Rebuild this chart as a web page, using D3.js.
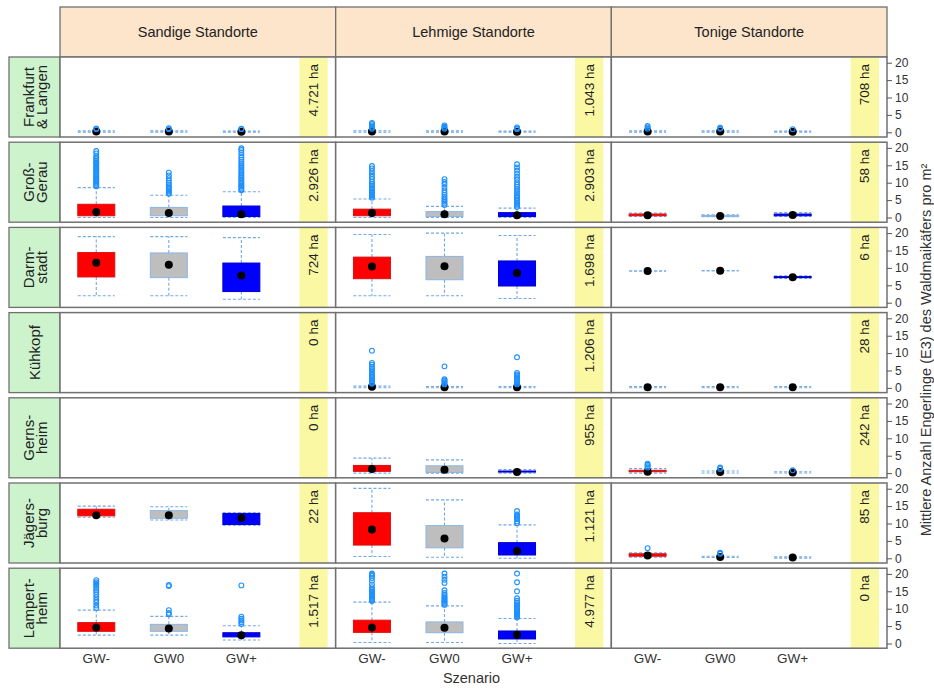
<!DOCTYPE html>
<html><head><meta charset="utf-8">
<script src="https://cdn.jsdelivr.net/npm/d3@7"></script>
<style>body{margin:0;background:#fff}svg{display:block;font-family:"Liberation Sans",Arial,Helvetica,sans-serif}</style>
</head><body><svg id="chart" width="934" height="688"></svg>
<script>
const columns = ["Sandige Standorte", "Lehmige Standorte", "Tonige Standorte"];
const regions = [["Frankfurt","& Langen"],["Groß-","Gerau"],["Darm-","stadt"],["Kühkopf"],["Gerns-","heim"],["Jägers-","burg"],["Lampert-","heim"]];
const scenarios = ["GW-","GW0","GW+"];
const areas = [["4.721 ha","1.043 ha","708 ha"],["2.926 ha","2.903 ha","58 ha"],["724 ha","1.698 ha","6 ha"],["0 ha","1.206 ha","28 ha"],["0 ha","955 ha","242 ha"],["22 ha","1.121 ha","85 ha"],["1.517 ha","4.977 ha","0 ha"]];
const yTicks = [0,5,10,15,20];
const xTitle = "Szenario";
const yTitle = "Mittlere Anzahl Engerlinge (E3) des Waldmaikäfers pro m²";

// [region][soil column][scenario]
const lowWhisker = [
 [[0.05,0.05,0.05],[0.05,0.05,0.05],[0.05,0.05,0.05]],
 [[0,0,0],[0,0,0],[0.3,0.2,0.3]],
 [[2.0,2.0,1.0],[2.0,2.0,1.2],[9.1,9.2,7.0]],
 [null,[0.05,0.05,0.05],[0.05,0.05,0.05]],
 [null,[0,0,0],[0,0.05,0.05]],
 [[11.8,11.0,9.5],[0.5,0.3,0],[0.3,0.25,0.05]],
 [[2.4,2.4,1.0],[0.3,0.3,0],null]
];
const q1 = [
 [[0.2,0.2,0.15],[0.2,0.2,0.15],[0.2,0.2,0.15]],
 [[0.5,0.5,0.3],[0.5,0.3,0.3],[0.5,0.3,0.5]],
 [[7.4,7.2,3.2],[6.9,6.6,4.8],[9.1,9.2,7.2]],
 [null,[0.3,0.2,0.2],[0.2,0.2,0.2]],
 [null,[0.5,0.2,0.3],[0.4,0.3,0.2]],
 [[12.2,11.5,9.7],[3.8,3.0,0.95],[0.6,0.4,0.2]],
 [[3.5,3.5,1.9],[3.2,3.1,1.3],null]
];
const medians = [
 [[0.2,0.2,0.15],[0.2,0.2,0.15],[0.2,0.2,0.15]],
 [[1.6,1.3,0.95],[1.3,0.9,0.66],[0.65,0.45,0.7]],
 [[11.5,10.9,7.8],[10.4,10.5,8.5],[9.1,9.2,7.3]],
 [null,[0.3,0.2,0.2],[0.2,0.2,0.2]],
 [null,[1.2,0.95,0.35],[0.4,0.3,0.2]],
 [[12.4,12.4,11.6],[8.3,5.7,2.1],[0.8,0.4,0.2]],
 [[4.6,4.3,2.4],[4.6,4.5,2.5],null]
];
const q3 = [
 [[0.2,0.2,0.15],[0.2,0.2,0.15],[0.2,0.2,0.15]],
 [[3.8,2.9,3.3],[2.4,1.7,1.4],[1.0,0.6,1.0]],
 [[14.4,14.3,11.4],[13.1,13.3,12.0],[9.1,9.2,7.5]],
 [null,[0.3,0.2,0.2],[0.2,0.2,0.2]],
 [null,[2.2,2.1,0.6],[0.8,0.3,0.2]],
 [[14.1,13.7,12.9],[13.1,9.4,4.5],[1.3,0.4,0.2]],
 [[6.0,5.5,3.1],[6.7,6.2,3.6],null]
];
const highWhisker = [
 [[0.4,0.4,0.35],[0.45,0.4,0.35],[0.4,0.4,0.35]],
 [[8.6,6.4,7.4],[5.3,3.2,2.7],[1.3,0.8,1.4]],
 [[19.0,19.0,18.7],[19.6,20.0,19.3],[9.1,9.2,7.7]],
 [null,[0.5,0.4,0.4],[0.4,0.4,0.4]],
 [null,[4.3,3.8,1.0],[1.3,0.6,0.4]],
 [[15.0,14.8,13.1],[20.1,16.8,9.6],[1.6,0.6,0.4]],
 [[9.6,7.8,5.1],[11.9,10.8,7.2],null]
];
const outliers = [
 [[[0.9,1.1],[0.9,1.2],[0.9,1.0]],
  [[1.0,1.3,1.6,2.0,2.4,2.7],[1.0,1.3,1.6,2.0],[0.9,1.1,1.4]],
  [[1.0,1.4,1.8],[1.0,1.3],[0.9]]],
 [[[9.0,9.3,9.7,10.0,10.4,10.7,11.1,11.4,11.8,12.1,12.5,12.9,13.2,13.6,14.0,14.3,14.7,15.1,15.5,15.8,16.2,16.7,17.1,17.6,18.4,19.1],
   [6.8,7.1,7.5,7.8,8.2,8.6,9.0,9.5,10.0,10.6,11.3,12.1,12.9],
   [7.8,8.1,8.5,8.9,9.2,9.6,10.0,10.4,10.9,11.3,11.8,12.2,12.7,13.2,13.7,14.3,14.8,15.4,16.0,16.6,17.2,17.9,18.7,19.4,19.9]],
  [[5.7,6.0,6.4,6.7,7.1,7.5,7.9,8.3,8.7,9.2,9.7,10.3,11.0,11.7,12.5,13.3,14.1,14.8],
   [3.6,4.0,4.5,4.9,5.4,5.9,6.5,7.1,7.8,8.6,9.5,10.2,11.0],
   [3.0,3.4,3.8,4.2,4.7,5.1,5.6,6.0,6.5,7.0,7.6,8.2,8.8,9.4,10.1,10.9,11.7,12.6,13.5,14.4,15.3]],
  [[],[],[]]],
 [[[],[],[]],[[],[],[]],[[],[],[]]],
 [null,
  [[1.2,1.5,1.8,2.1,2.5,2.8,3.2,3.6,4.1,4.6,5.1,5.6,6.1,6.7,7.2,10.7],[1.0,1.3,1.6,1.9,2.2,2.5,6.2],[1.0,1.3,1.6,2.0,2.3,2.7,3.1,3.5,3.9,4.3,8.8]],
  [[],[],[]]],
 [null,[[],[],[]],[[1.6,2.0,2.4,2.7],[1.2,1.6],[0.8]]],
 [[[],[],[]],[[],[],[10.1,10.6,11.2,11.6,12.0,12.3,12.6,13.6]],[[2.9],[1.3,1.6],[]]],
 [[[10.2,10.9,11.8,12.5,13.3,14.1,14.8,15.4,16.0,16.6,17.1,17.6,18.2],[8.4,8.8,9.6,16.5,16.8],[5.6,6.1,6.6,7.1,7.7,16.7]],
  [[12.2,12.5,12.8,13.1,13.4,13.7,14.0,14.3,14.6,15.0,15.5,16.2,17.0,18.0,18.8,19.4,19.8,20.1],
   [11.1,11.4,11.7,12.0,12.3,12.6,12.9,13.2,13.6,14.0,14.5,15.3,17.4,18.3,19.2,20.1],
   [7.5,7.8,8.1,8.4,8.7,9.0,9.3,9.6,9.9,10.2,10.5,10.9,11.3,11.8,12.3,13.0,15.0,17.6,20.1]],
  null]
];

const boxFill = ["#ff0000","#bebebe","#0000ff"];
const boxStroke = ["#d81010","#8ab6e6","#0000cc"];

// ---- layout ----
const svg = d3.select("#chart");
const L = 60, R = 887, headTop = 7, headBot = 57;
const colW = (R - L) / 3;
const rowStep = 85.2, panelH = 80;
const stripL = 9;
const borderCol = "#707070";
const whiskCol = "#72a8e6";
const outCol = "#1e90ff";

const x = d3.scaleLinear().domain([0.5, 4.3]).range([0, colW]);
const y = d3.scaleLinear().domain([-1.35, 21.64]).range([panelH, 0]);
const halfW = x(1.255) - x(1);

// header strips
columns.forEach((c, ci) => {
  const g = svg.append("g").attr("transform", `translate(${L + ci*colW},${headTop})`);
  g.append("rect").attr("width", colW).attr("height", headBot - headTop)
    .attr("fill", "#fce5cb").attr("stroke", borderCol).attr("stroke-width", 1.3);
  g.append("text").attr("x", colW/2).attr("y", (headBot - headTop)/2 + 5)
    .attr("text-anchor", "middle").attr("font-size", 14.5).attr("fill", "#222").text(c);
});

regions.forEach((reg, ri) => {
  const top = headBot + ri * rowStep;
  // left strip
  const sg = svg.append("g").attr("transform", `translate(${stripL},${top})`);
  sg.append("rect").attr("width", L - stripL).attr("height", panelH)
    .attr("fill", "#cdf3cd").attr("stroke", borderCol).attr("stroke-width", 1.3);
  const cx = (L - stripL) / 2;
  const n = reg.length;
  reg.forEach((line, li) => {
    const off = (li - (n - 1) / 2) * 13;
    sg.append("text")
      .attr("transform", `translate(${cx + off},${panelH/2}) rotate(-90)`)
      .attr("text-anchor", "middle").attr("dominant-baseline", "central")
      .attr("font-size", 15).attr("fill", "#222").text(line);
  });

  columns.forEach((c, ci) => {
    const g = svg.append("g").attr("transform", `translate(${L + ci*colW},${top})`);
    g.append("rect").attr("width", colW).attr("height", panelH).attr("fill", "#fff");
    // yellow area strip
    g.append("rect").attr("x", x(3.8)).attr("width", x(4.19) - x(3.8))
      .attr("height", panelH).attr("fill", "#faf8a2");
    g.append("text")
      .attr("transform", `translate(${(x(3.8)+x(4.19))/2},${7}) rotate(-90)`)
      .attr("text-anchor", "end").attr("dominant-baseline", "central")
      .attr("font-size", 13.5).attr("fill", "#222").text(areas[ri][ci]);

    const med = medians[ri][ci];
    if (med) {
      scenarios.forEach((s, si) => {
        const xc = x(si + 1);
        const lo = lowWhisker[ri][ci][si], a = q1[ri][ci][si], m = med[si],
              b = q3[ri][ci][si], hi = highWhisker[ri][ci][si];
        const wg = g.append("g").attr("stroke", whiskCol).attr("stroke-width", 1.1)
          .attr("stroke-dasharray", "3,2").attr("fill", "none");
        wg.append("line").attr("x1", xc).attr("x2", xc).attr("y1", y(b)).attr("y2", y(hi));
        wg.append("line").attr("x1", xc).attr("x2", xc).attr("y1", y(a)).attr("y2", y(lo));
        wg.append("line").attr("x1", xc - halfW).attr("x2", xc + halfW).attr("y1", y(hi)).attr("y2", y(hi));
        wg.append("line").attr("x1", xc - halfW).attr("x2", xc + halfW).attr("y1", y(lo)).attr("y2", y(lo));
        if (b - a > 0.01) {
          g.append("rect").attr("x", xc - halfW).attr("width", 2*halfW)
            .attr("y", y(b)).attr("height", Math.max(1, y(a) - y(b)))
            .attr("fill", boxFill[si]).attr("stroke", boxStroke[si]).attr("stroke-width", 1);
        }
        g.append("circle").attr("cx", xc).attr("cy", y(m)).attr("r", 4).attr("fill", "#000");
        const outs = outliers[ri] && outliers[ri][ci] ? outliers[ri][ci][si] : [];
        g.selectAll(null).data(outs).enter().append("circle")
          .attr("cx", xc).attr("cy", d => y(d)).attr("r", 2.4)
          .attr("fill", "none").attr("stroke", outCol).attr("stroke-width", 1.1);
      });
    }
    g.append("rect").attr("width", colW).attr("height", panelH)
      .attr("fill", "none").attr("stroke", borderCol).attr("stroke-width", 1.5);
  });

  // right axis
  const ag = svg.append("g").attr("transform", `translate(${R},${top})`);
  const axis = d3.axisRight(y).tickValues(yTicks).tickSize(5).tickPadding(3);
  ag.call(axis);
  ag.select(".domain").remove();
  ag.selectAll(".tick line").attr("stroke", "#555");
  ag.selectAll(".tick text").attr("font-size", 12).attr("fill", "#333")
    .attr("font-family", "Liberation Sans, Arial, sans-serif");
});

// x labels
const lastBottom = headBot + (regions.length - 1) * rowStep + panelH;
columns.forEach((c, ci) => {
  scenarios.forEach((s, si) => {
    svg.append("text").attr("x", L + ci*colW + x(si + 1)).attr("y", lastBottom + 15)
      .attr("text-anchor", "middle").attr("font-size", 13.5).attr("fill", "#333").text(s);
  });
});
svg.append("text").attr("x", L + 1.5*colW - 2).attr("y", lastBottom + 35)
  .attr("text-anchor", "middle").attr("font-size", 14.5).attr("fill", "#333").text(xTitle);
svg.append("text").attr("transform", `translate(926,350) rotate(-90)`)
  .attr("text-anchor", "middle").attr("dominant-baseline", "central")
  .attr("font-size", 14.5).attr("fill", "#333").text(yTitle);
</script>
</body></html>
